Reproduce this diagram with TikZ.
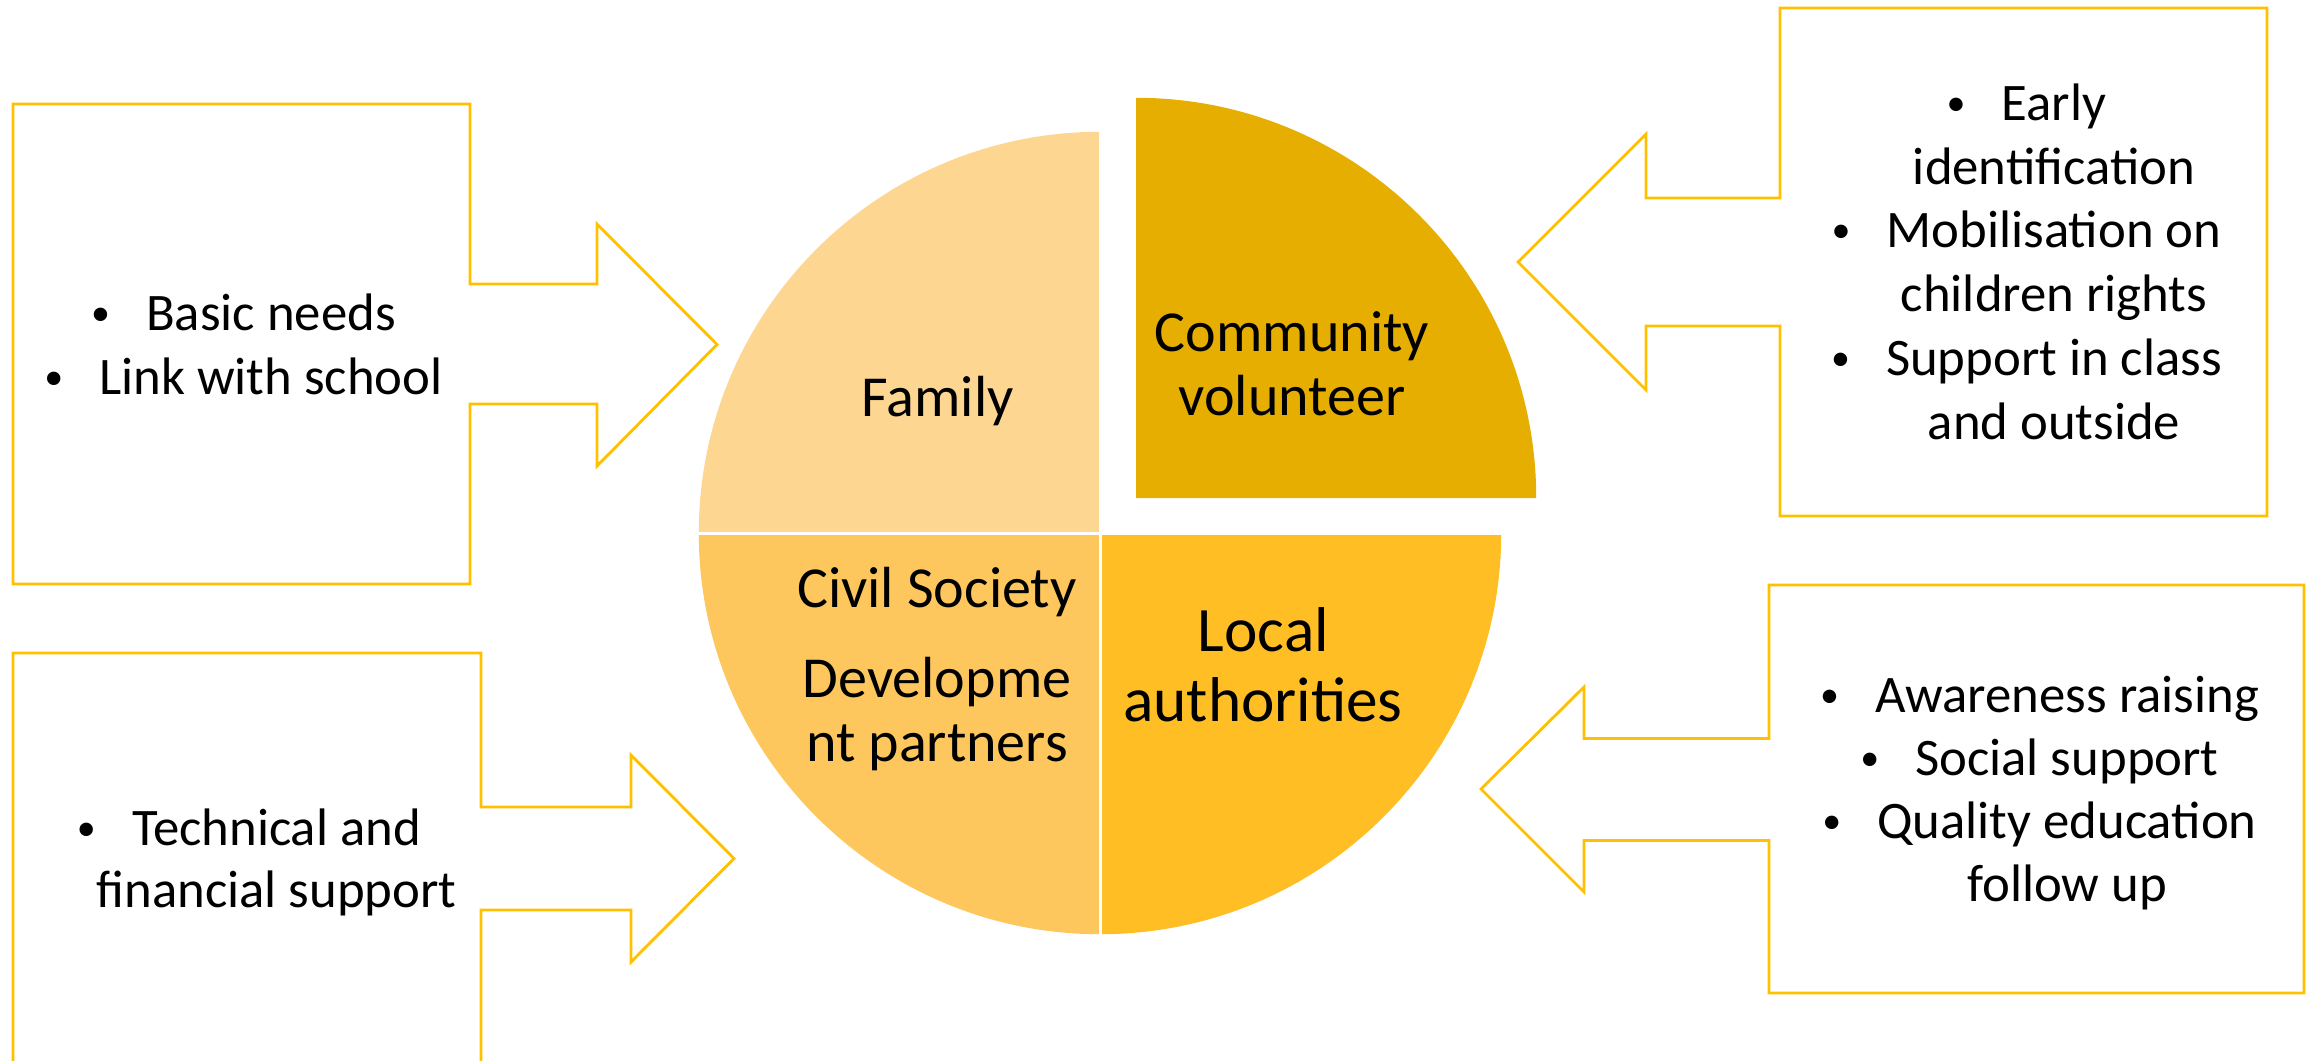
\documentclass[tikz,border=0pt]{standalone}
\usepackage{graphicx}
\usepackage{fontspec}
\setmainfont{Carlito}

\definecolor{calloutline}{HTML}{FFC000}
\definecolor{familyfill}{HTML}{FDD692}
\definecolor{civilfill}{HTML}{FEC75E}
\definecolor{localfill}{HTML}{FEBE24}
\definecolor{communityfill}{HTML}{E6AE00}

\newcommand\bul{\llap{\makebox[0.55cm][l]{\raisebox{0.05cm}{\scalebox{0.72}{•}}}}}

\begin{document}
\begin{tikzpicture}[x=0.01cm, y=-0.01cm,
    callout/.style={draw=calloutline, line width=0.8pt, line join=miter},
    sep/.style={draw=white, line width=0.03cm},
    item/.style={anchor=base, inner sep=0pt, font=\fontsize{15}{18}\selectfont},
    lbl/.style={anchor=base, inner sep=0pt, font=\fontsize{16.5}{19}\selectfont}]
  \clip (0,0) rectangle (2318,1060);

  % pie in four quarters
  \coordinate (pc) at (1100,533);
  \coordinate (cv) at (1136,498);
  \fill[familyfill] (pc) -- ++(-4.01cm,0) arc[start angle=180, end angle=90, radius=4.01cm] -- cycle;
  \fill[civilfill] (pc) -- ++(-4.01cm,0) arc[start angle=180, end angle=270, radius=4.01cm] -- cycle;
  \fill[localfill] (pc) -- ++(4.01cm,0) arc[start angle=0, end angle=-90, radius=4.01cm] -- cycle;
  \fill[communityfill] (cv) -- ++(4cm,0) arc[start angle=0, end angle=90, radius=4cm] -- cycle;
  \draw[sep] (696,533) -- (1506,533);
  \draw[sep] (1100,128) -- (1100,938);

  \node[lbl] (family) at (937.7,416.7) {Family};
  \node[lbl] (community) at (1292,351) {Community};
  \node[lbl] (volunteer) at (1292,415) {volunteer};
  \node[lbl] (civil) at (937,607.5) {Civil Society};
  \node[lbl] (develop) at (937,697) {Developme};
  \node[lbl] (partners) at (937,761) {nt partners};
  \node[lbl, font=\fontsize{18}{21}\selectfont] (local) at (1263.5,651) {Local};
  \node[lbl, font=\fontsize{18}{21}\selectfont] (authorities) at (1263,721.5) {authorities};

  % callouts
  \draw[callout] (13,104) -- (470,104) -- (470,284) -- (597,284) -- (597,224) -- (717,344.5)
    -- (597,466) -- (597,404) -- (470,404) -- (470,584) -- (13,584) -- cycle;
  \draw[callout] (13,1080) -- (13,653) -- (481,653) -- (481,807) -- (631,807) -- (631,755)
    -- (734,858.5) -- (631,962) -- (631,910) -- (481,910) -- (481,1080);
  \draw[callout] (2267,8) -- (1780,8) -- (1780,198) -- (1646,198) -- (1646,134) -- (1518,262)
    -- (1646,390) -- (1646,326) -- (1780,326) -- (1780,516) -- (2267,516) -- cycle;
  \draw[callout] (2304,585) -- (1769,585) -- (1769,738.5) -- (1584,738.5) -- (1584,687) -- (1481,789)
    -- (1584,892) -- (1584,840.5) -- (1769,840.5) -- (1769,993) -- (2304,993) -- cycle;

  \foreach \t [count=\i] in {{\bul Basic needs}, {\bul Link with school}}
    \node[item] (fam-\i) at (271,{330+64*(\i-1)}) {\t};
  \foreach \t [count=\i] in {{\bul Technical and}, financial support}
    \node[item] (civ-\i) at (276.5,{845+62*(\i-1)}) {\t};
  \foreach \t [count=\i] in {{\bul Early}, identification, {\bul Mobilisation on},
      children rights, {\bul Support in class}, and outside}
    \node[item] (com-\i) at (2054,{120.5+63.7*(\i-1)}) {\t};
  \foreach \t [count=\i] in {{\bul Awareness raising}, {\bul Social support},
      {\bul Quality education}, follow up}
    \node[item] (loc-\i) at (2067,{712+63*(\i-1)}) {\t};
\end{tikzpicture}
\end{document}
